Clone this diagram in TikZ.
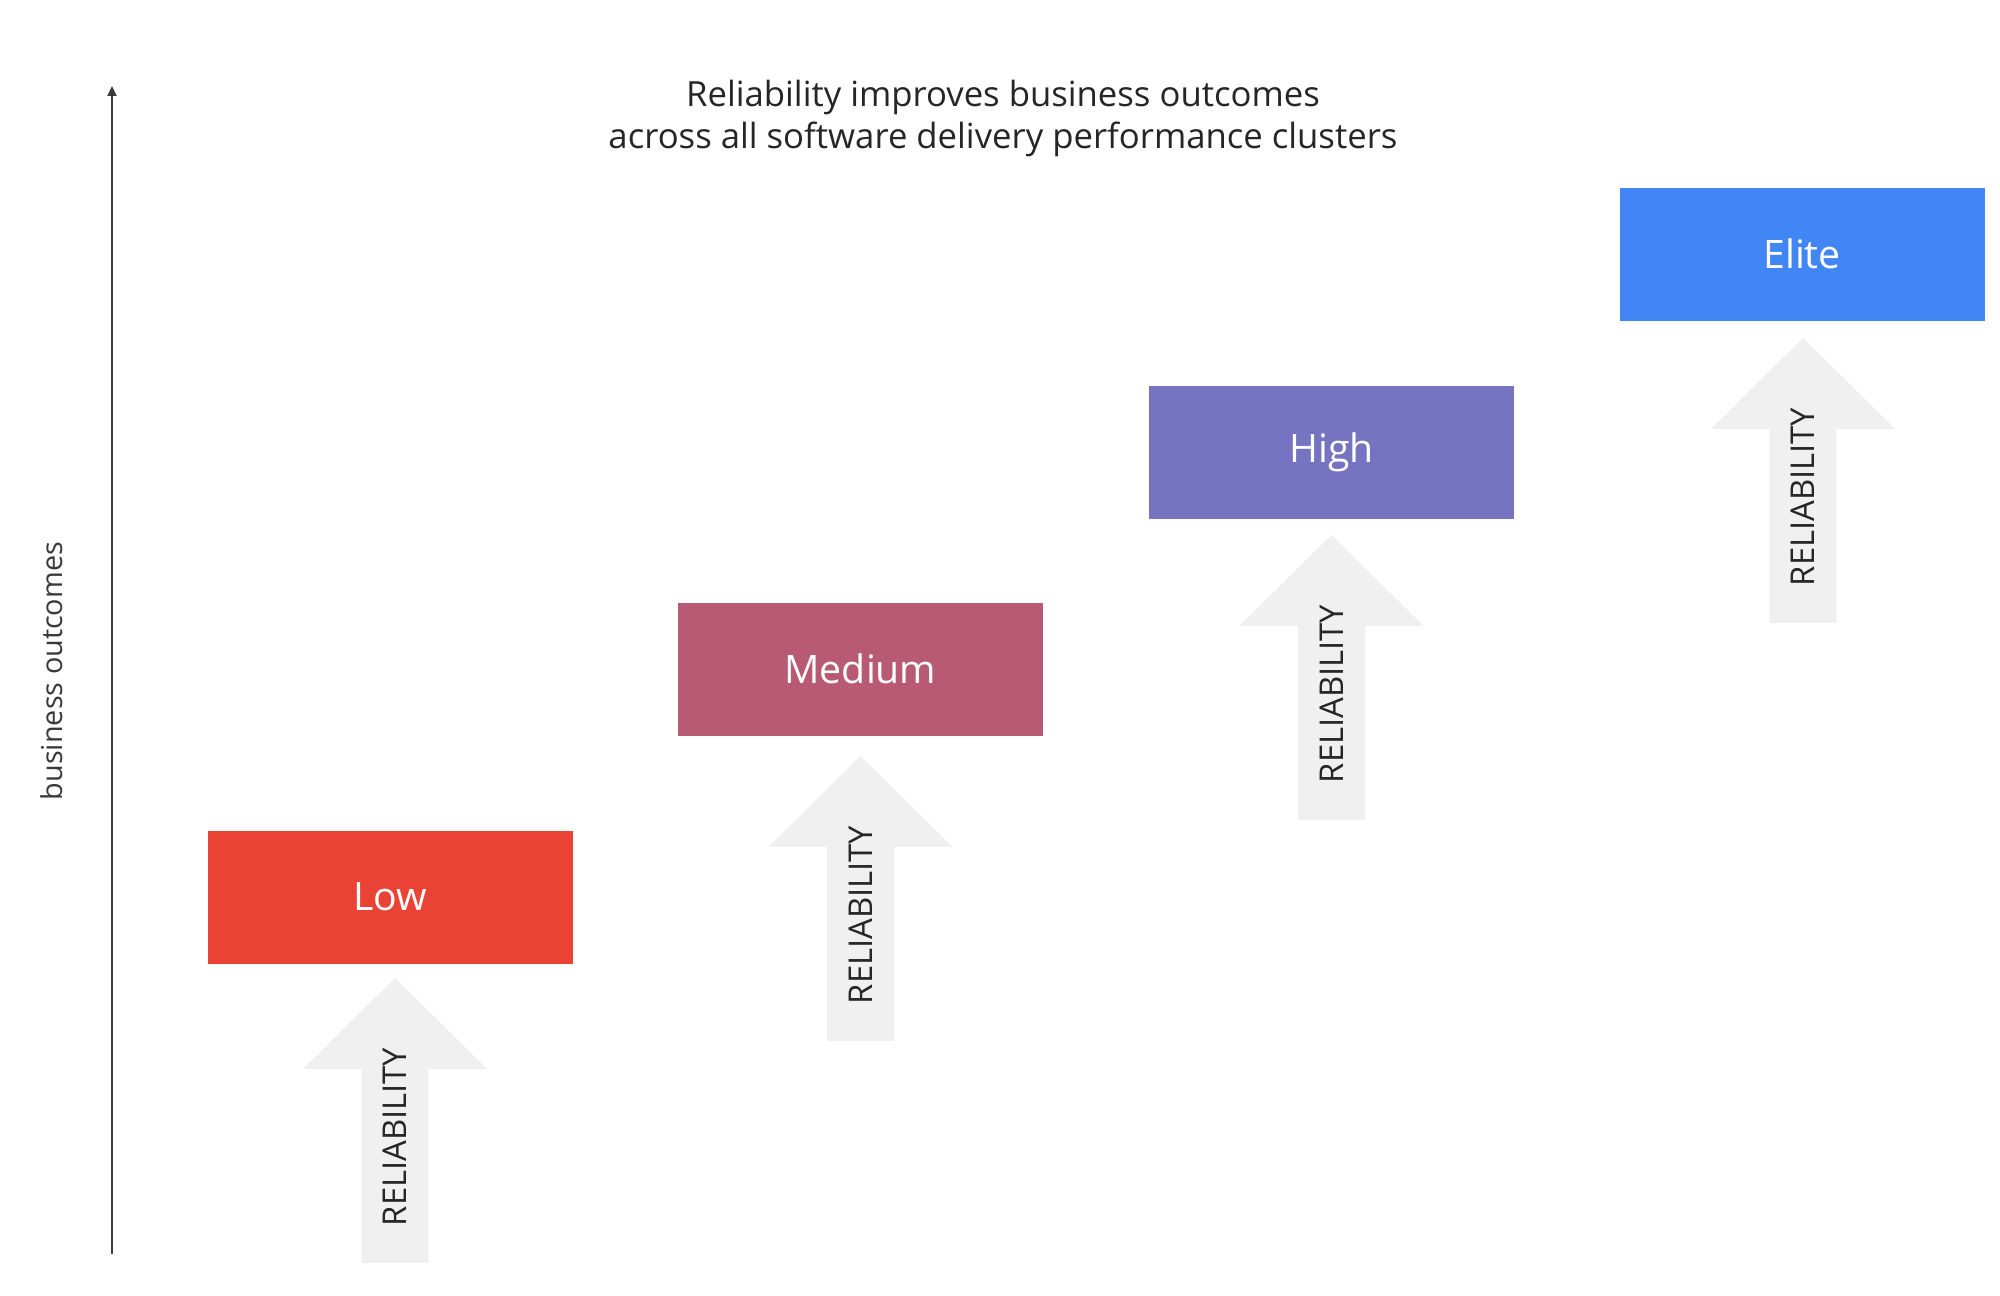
\documentclass[tikz,border=0pt]{standalone}
\usepackage{fontspec}
\setmainfont{Open Sans}
\usetikzlibrary{calc,arrows.meta}
\definecolor{lowc}{HTML}{EA4335}
\definecolor{medc}{HTML}{B85A74}
\definecolor{highc}{HTML}{7674C1}
\definecolor{elitec}{HTML}{4285F4}
\definecolor{arrowgray}{HTML}{F0F0F0}
\definecolor{textdark}{HTML}{262626}
\definecolor{axisc}{HTML}{3A3A3A}
\begin{document}
\begin{tikzpicture}[x=0.5pt,y=-0.5pt,
  level/.style={minimum width=182.5pt, minimum height=66.5pt, inner sep=0pt,
    text=white, font=\fontsize{19.6}{23}\selectfont},
  reltext/.style={rotate=90, inner sep=0pt, text=textdark,
    font=\fontsize{16.4}{19}\selectfont},
  relup/.pic={
    \fill[arrowgray] (0,0) -- (92,91) -- (33.5,91) -- (33.5,285) -- (-33.5,285)
      -- (-33.5,91) -- (-92,91) -- cycle;
    \node[reltext] (-lbl) at (0,159) {RELIABILITY};
  }]
\fill[white] (0,0) rectangle (2000,1295);
\useasboundingbox (0,0) rectangle (2000,1295);

% axis
\coordinate (axbot) at (112,1254);
\coordinate (axtop) at (112,86);
\draw[axisc, line width=1pt, -{Triangle[length=5pt,width=4.5pt]}] (axbot) -- (axtop);
\node[rotate=90, inner sep=0pt, text=axisc, font=\fontsize{14.4}{17}\selectfont]
  (ylab) at (52,671) {business outcomes};

% title
\node[align=center, inner sep=0pt, text=textdark, font=\fontsize{17.35}{21}\selectfont]
  (title) at (1003,118) {Reliability improves business outcomes\\across all software delivery performance clusters};

% level boxes
\node[level, fill=lowc]   (low)   at (390,897)  {Low};
\node[level, fill=medc]   (med)   at (860.5,669) {Medium};
\node[level, fill=highc]  (high)  at (1331.5,452) {High};
\node[level, fill=elitec] (elite) at (1802,254) {Elite};

% reliability arrows
\pic (lowarr)   at ($(low.south)+(5,14)$)   {relup};
\pic (medarr)   at ($(med.south)+(0,20)$)   {relup};
\pic (higharr)  at ($(high.south)+(0,16)$)  {relup};
\pic (elitearr) at ($(elite.south)+(1,17)$) {relup};
\end{tikzpicture}
\end{document}
